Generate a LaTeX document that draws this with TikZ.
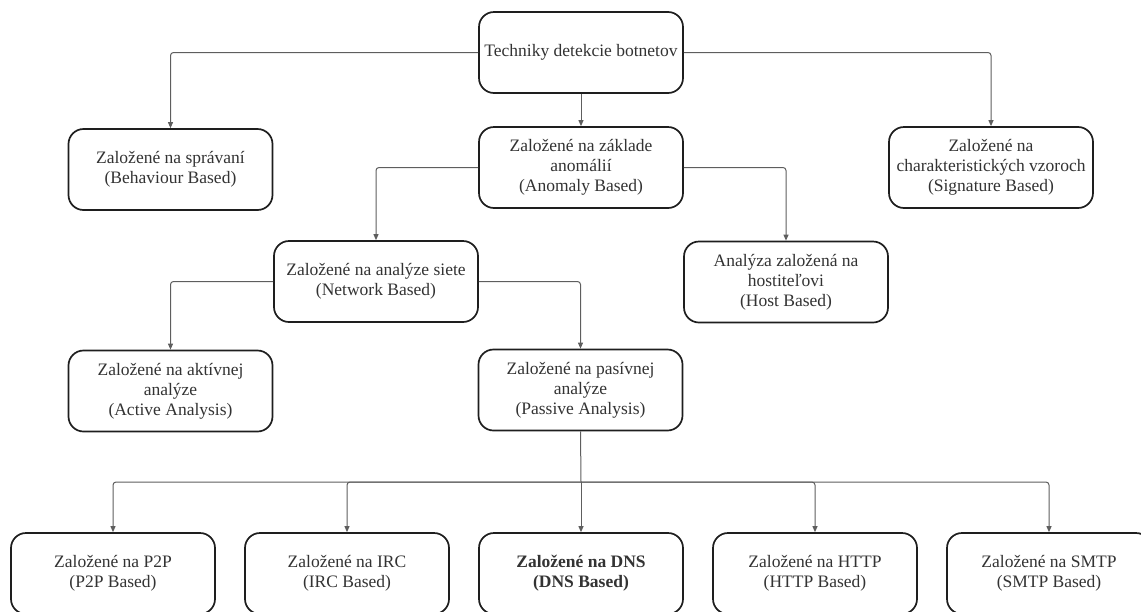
\documentclass[tikz,border=0pt]{standalone}
\usepackage{fontspec}
\setmainfont{Liberation Serif}
\usetikzlibrary{arrows.meta}

\definecolor{boxline}{HTML}{1E1E1E}
\definecolor{linkline}{HTML}{5E5E5E}
\definecolor{labeltext}{HTML}{333333}

\tikzset{
  tech/.style={draw=boxline, line width=1.7pt, rounded corners=15pt,
    minimum width=204pt, minimum height=81pt, inner sep=0pt,
    align=center, text=labeltext, fill=white,
    font=\fontsize{17.5}{20}\selectfont},
  link/.style={draw=linkline, line width=1pt, rounded corners=3pt,
    -{Triangle[length=6pt,width=5pt]}},
  plainlink/.style={draw=linkline, line width=1pt}
}

\begin{document}
\begin{tikzpicture}[x=1pt,y=-1pt]
\useasboundingbox (0,0) rectangle (1141,611);

% level 0
\node[tech] (root) at (581,52.5) {Techniky detekcie botnetov};

% level 1
\node[tech] (behav) at (170.5,169.5) {Založené na správaní\\(Behaviour Based)};
\node[tech] (anom)  at (581,167.5) {Založené na základe\\anomálií\\(Anomaly Based)};
\node[tech] (sig)   at (991,167.5) {Založené na\\charakteristických vzoroch\\(Signature Based)};

% level 2
\node[tech] (net)  at (376,281.5) {Založené na analýze siete\\(Network Based)};
\node[tech] (host) at (786,282) {Analýza založená na\\hostiteľovi\\(Host Based)};

% level 3
\node[tech] (active)  at (170.5,391) {Založené na aktívnej\\analýze\\(Active Analysis)};
\node[tech] (passive) at (580.5,390) {Založené na pasívnej\\analýze\\(Passive Analysis)};

% level 4
\node[tech] (p2p)  at (113,573.5)  {Založené na P2P\\(P2P Based)};
\node[tech] (irc)  at (347,573.5)  {Založené na IRC\\(IRC Based)};
\node[tech] (dns)  at (581,573.5)  {\bfseries Založené na DNS\\\bfseries (DNS Based)};
\node[tech] (http) at (815,573.5)  {Založené na HTTP\\(HTTP Based)};
\node[tech] (smtp) at (1049,573.5) {Založené na SMTP\\(SMTP Based)};

% connectors
\draw[link] (root.west) -| (behav.north);
\draw[link] (root.east) -| (sig.north);
\draw[link] (root.south) -- (anom.north);

\draw[link] (anom.west) -| (net.north);
\draw[link] (anom.east) -| (host.north);

\draw[link] (net.west) -| (active.north);
\draw[link] (net.east) -| (passive.north);

\coordinate (bus) at (581,482);
\draw[plainlink] (passive.south) -- (bus);
\draw[link] (bus) -| (p2p.north);
\draw[link] (bus) -| (irc.north);
\draw[link] (bus) -- (dns.north);
\draw[link] (bus) -| (http.north);
\draw[link] (bus) -| (smtp.north);
\end{tikzpicture}
\end{document}
